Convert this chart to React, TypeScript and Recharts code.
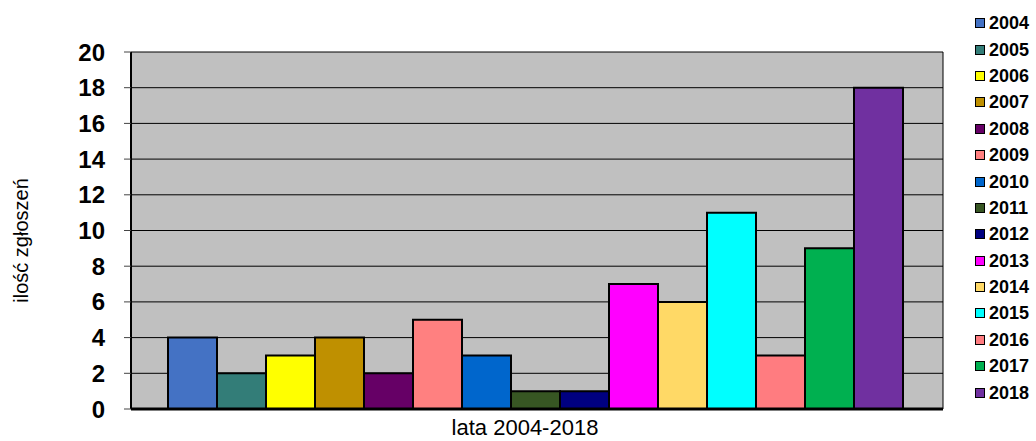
import React from 'react';
import { BarChart, Bar, XAxis, YAxis, CartesianGrid } from 'recharts';

const years = ['2004', '2005', '2006', '2007', '2008', '2009', '2010', '2011', '2012', '2013', '2014', '2015', '2016', '2017', '2018'];
const counts = [4, 2, 3, 4, 2, 5, 3, 1, 1, 7, 6, 11, 3, 9, 18];
const colors = ['#4472C4', '#337D78', '#FFFF00', '#BF9000', '#660066', '#FF8080', '#0066CC', '#375623', '#000080', '#FF00FF', '#FFD966', '#00FFFF', '#FF7C80', '#00B050', '#7030A0'];
const yTicks = [0, 2, 4, 6, 8, 10, 12, 14, 16, 18, 20];
const category = 'lata 2004-2018';
const yTitle = 'ilość zgłoszeń';

const row: Record<string, string | number> = { name: category };
years.forEach((y, i) => {
    row['y' + y] = counts[i];
});
const data = [row];

const FONT = '"Liberation Sans", Arial, sans-serif';

function YTitle({ viewBox }: any) {
    const x = viewBox.x + 28;
    const y = viewBox.y + viewBox.height / 2 + 10;
    return (
        <text
            x={x}
            y={y}
            transform={`rotate(-90 ${x} ${y})`}
            textAnchor="middle"
            fontSize={20}
            fontFamily={FONT}
            fill="#000"
        >
            {yTitle}
        </text>
    );
}

export default function App() {
    return (
        <div style={{ position: 'absolute', left: 0, top: 0, width: 1036, height: 441, background: '#fff', fontFamily: FONT }}>
            <BarChart
                width={1036}
                height={441}
                data={data}
                margin={{ top: 52, right: 93, bottom: 0, left: 0 }}
                barCategoryGap={37}
                barGap={0}
            >
                <CartesianGrid
                    fill="#C0C0C0"
                    stroke="#000"
                    strokeWidth={1}
                    verticalCoordinatesGenerator={({ offset }: any) => [offset.left + offset.width]}
                />
                <XAxis
                    dataKey="name"
                    height={32}
                    tickLine={false}
                    tickSize={6}
                    tickMargin={4}
                    axisLine={{ stroke: '#000', strokeWidth: 3 }}
                    tick={{ fontSize: 22, fill: '#000', fontFamily: FONT, dx: -12 }}
                />
                <YAxis
                    width={131}
                    domain={[0, 20]}
                    ticks={yTicks}
                    interval={0}
                    tickSize={7}
                    tickMargin={19}
                    axisLine={{ stroke: '#000', strokeWidth: 2 }}
                    tickLine={{ stroke: '#444' }}
                    tick={{ fontSize: 24, fontWeight: 'bold', fill: '#000', fontFamily: FONT }}
                    label={<YTitle />}
                />
                {years.map((y, i) => (
                    <Bar
                        key={y}
                        dataKey={'y' + y}
                        name={y}
                        fill={colors[i]}
                        stroke="#000"
                        strokeWidth={2}
                        isAnimationActive={false}
                    />
                ))}
            </BarChart>
            <div style={{ position: 'absolute', left: 975, top: 10 }}>
                {years.map((y, i) => (
                    <div key={y} style={{ display: 'flex', alignItems: 'center', height: 26.4 }}>
                        <div
                            style={{
                                width: 8,
                                height: 8,
                                background: colors[i],
                                border: '1.5px solid #000',
                                marginRight: 4,
                            }}
                        />
                        <span style={{ fontSize: 18, fontWeight: 'bold', color: '#000', lineHeight: '18px' }}>{y}</span>
                    </div>
                ))}
            </div>
        </div>
    );
}
